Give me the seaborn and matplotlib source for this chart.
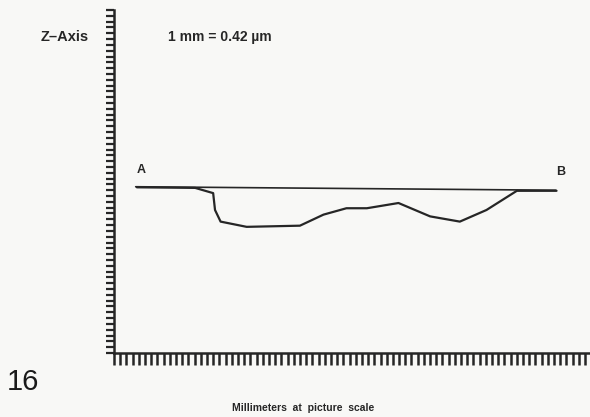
import matplotlib
matplotlib.use("Agg")
import matplotlib.pyplot as plt
import seaborn as sns

# surface profile traced from A to B (x: mm at picture scale, z: mm)
profile_x = [3.7, 13.1, 16.0, 16.3, 17.2, 21.4, 30.0, 33.8, 37.5, 40.8,
             45.9, 51.0, 55.8, 60.1, 65.0, 71.4]
profile_z = [28.5, 28.4, 27.5, 24.6, 22.6, 21.7, 21.9, 23.8, 24.9, 24.9,
             25.8, 23.5, 22.6, 24.6, 27.9, 27.9]

# straight reference line A-B
ref_x = [3.5, 71.3]
ref_z = [28.6, 28.0]

x_ticks = list(range(0, 77))
z_ticks = list(range(0, 60))

sns.set_style("ticks")
plt.rcParams['font.family'] = ['Liberation Sans', 'DejaVu Sans']

fig = plt.figure(figsize=(5.9, 4.17), dpi=100, facecolor='#f8f8f6')
ax = fig.add_axes([0.1932, 0.1535, 0.8068, 0.8225])
ax.set_facecolor('#f8f8f6')

line_color = '#262626'
sns.lineplot(x=ref_x, y=ref_z, ax=ax, color=line_color, linewidth=1.2, sort=False)
sns.lineplot(x=profile_x, y=profile_z, ax=ax, color=line_color, linewidth=1.6, sort=False)

ax.set_xlim(0, 76.8)
ax.set_ylim(0, 59)
ax.set_xticks(x_ticks)
ax.set_yticks(z_ticks)
ax.set_xticklabels([])
ax.set_yticklabels([])
ax.tick_params(axis='x', direction='out', length=8.5, width=1.8, color=line_color)
ax.tick_params(axis='y', direction='out', length=6, width=1.6, color=line_color)
for side in ['top', 'right']:
    ax.spines[side].set_visible(False)
for side in ['left', 'bottom']:
    ax.spines[side].set_linewidth(1.8)
    ax.spines[side].set_color(line_color)
ax.set_xlabel('')
ax.set_ylabel('')

# annotations
fig.text(65 / 590, 1 - 37 / 417, 'Z–Axis', ha='center', va='center',
         fontsize=10.5, fontweight='bold', color=line_color)
fig.text(220 / 590, 1 - 37 / 417, '1 mm = 0.42 µm', ha='center', va='center',
         fontsize=10, fontweight='bold', color=line_color)
fig.text(141 / 590, 1 - 170 / 417, 'A', ha='center', va='center',
         fontsize=9, fontweight='bold', color=line_color)
fig.text(561 / 590, 1 - 172 / 417, 'B', ha='center', va='center',
         fontsize=9, fontweight='bold', color=line_color)
fig.text(23 / 590, 1 - 382 / 417, '16', ha='center', va='center',
         fontsize=21, color='#1a1a1a')
fig.text(303 / 590, 1 - 408 / 417, 'Millimeters  at  picture  scale', ha='center', va='center',
         fontsize=7.5, fontweight='bold', color=line_color)

fig.savefig('out.png', dpi=100, facecolor=fig.get_facecolor())
